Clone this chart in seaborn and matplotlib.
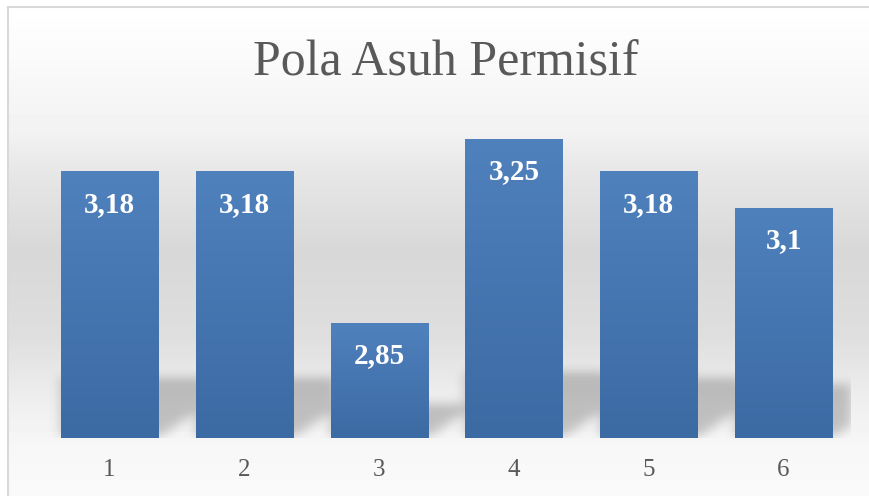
import numpy as np
import pandas as pd
import matplotlib
matplotlib.use('Agg')
import matplotlib.pyplot as plt
import seaborn as sns
from matplotlib.colors import LinearSegmentedColormap

categories = ['1', '2', '3', '4', '5', '6']
values = [3.18, 3.18, 2.85, 3.25, 3.18, 3.1]
labels = ['3,18', '3,18', '2,85', '3,25', '3,18', '3,1']
title = 'Pola Asuh Permisif'

sns.set_theme(style='white')
plt.rcParams['font.family'] = ['Liberation Serif', 'DejaVu Serif']

W, H = 870, 496
fig = plt.figure(figsize=(W / 100, H / 100), dpi=100)
fig.patch.set_facecolor('white')

# ---- chart-area background gradient + border
bg = fig.add_axes([0, 0, 1, 1], zorder=-10)
stops_y = [0, 7, 60, 130, 167, 250, 333, 400, 450, 496]
stops_v = [1, 1, 0.98, 0.95, 0.91, 0.845, 0.87, 0.935, 0.97, 0.98]
rows = np.interp(np.arange(H), stops_y, stops_v)
img = np.repeat(rows[:, None], W, axis=1)
img[:7, :] = 1
img[:, :8] = 1
bg.imshow(img, cmap='gray', vmin=0, vmax=1, aspect='auto',
          extent=(0, W, H, 0), interpolation='bilinear')
bg.plot([8, W], [7, 7], color='#d9d9d9', lw=1.5)
bg.plot([8, 8], [7, H], color='#d9d9d9', lw=1.5)
bg.set_xlim(0, W)
bg.set_ylim(H, 0)
bg.axis('off')

# ---- plot area
L, R, B, T = 42, 851, 438, 116
ymin, ymax = 2.6, 3.3
ax = fig.add_axes([L / W, (H - B) / H, (R - L) / W, (B - T) / H])
ax.patch.set_alpha(0)

df = pd.DataFrame({'cat': categories, 'val': values})
bw = 0.72
sns.barplot(data=df, x='cat', y='val', ax=ax, color='#4f81bd',
            width=bw, saturation=1, zorder=3)

# shadows (blurred, computed from bar positions)
ppx = (R - L) / 6
ppy = (B - T) / (ymax - ymin)
xs = np.linspace(-0.5, 5.5, 1200)
ys = np.linspace(ymin, ymin + 100 / ppy, 200)
X = (xs[None, :] + 0.5) * ppx
Y = (ys[:, None] - ymin) * ppy
mask = np.zeros((len(ys), len(xs)))
for i, v in enumerate(values):
    xl = (i - bw / 2 + 0.5) * ppx
    xr = (i + bw / 2 + 0.5) * ppx
    h = (v - ymin) * ppy
    Hs = 15 + 0.17 * h
    D = 45
    inside = (X >= xl) & (X <= xr + D) & (Y <= Hs) & (Y >= 0.68 * (X - xr)) & (Y >= 2)
    mask = np.maximum(mask, inside.astype(float))


def gauss(sig):
    n = int(3 * sig)
    k = np.exp(-0.5 * (np.arange(-n, n + 1) / sig) ** 2)
    return k / k.sum()


kx = gauss(6 / ((R - L) / 1200))
ky = gauss(5 / (100 / 200))
bl = np.array([np.convolve(r, kx, mode='same') for r in mask])
bl = np.array([np.convolve(c, ky, mode='same') for c in bl.T]).T
rgba = np.zeros(bl.shape + (4,))
rgba[..., :3] = 0.0
rgba[..., 3] = 0.21 * bl
ax.imshow(rgba, origin='lower', aspect='auto', extent=(-0.5, 5.5, ys[0], ys[-1]),
          zorder=1, interpolation='bilinear')

# gradient fill on bars
cmap = LinearSegmentedColormap.from_list('bar', ['#3c6aa3', '#4f81bd'])
grad = np.linspace(0, 1, 256)[:, None]
for p, v in zip(ax.patches, values):
    x0 = p.get_x()
    x1 = x0 + p.get_width()
    im = ax.imshow(grad, cmap=cmap, origin='lower', aspect='auto',
                   extent=(x0, x1, ymin, v), zorder=3.5)
    im.set_clip_path(p)
    p.set_edgecolor('none')

ax.set_xlim(-0.5, 5.5)
ax.set_ylim(ymin, ymax)

for i, (v, lab) in enumerate(zip(values, labels)):
    ax.annotate(lab, xy=(i, v), xytext=(0, -14), textcoords='offset points',
                ha='center', va='top', color='white', fontsize=21,
                fontweight='bold', zorder=5)

for s in ax.spines.values():
    s.set_visible(False)
ax.set_yticks([])
ax.set_xlabel('')
ax.set_ylabel('')
ax.tick_params(axis='x', length=0, pad=15, labelsize=18, labelcolor='#595959')

fig.text(446 / W, 1 - 75 / H, title, ha='center', va='baseline',
         fontsize=36, color='#595959')

fig.savefig('out.png', dpi=100)
